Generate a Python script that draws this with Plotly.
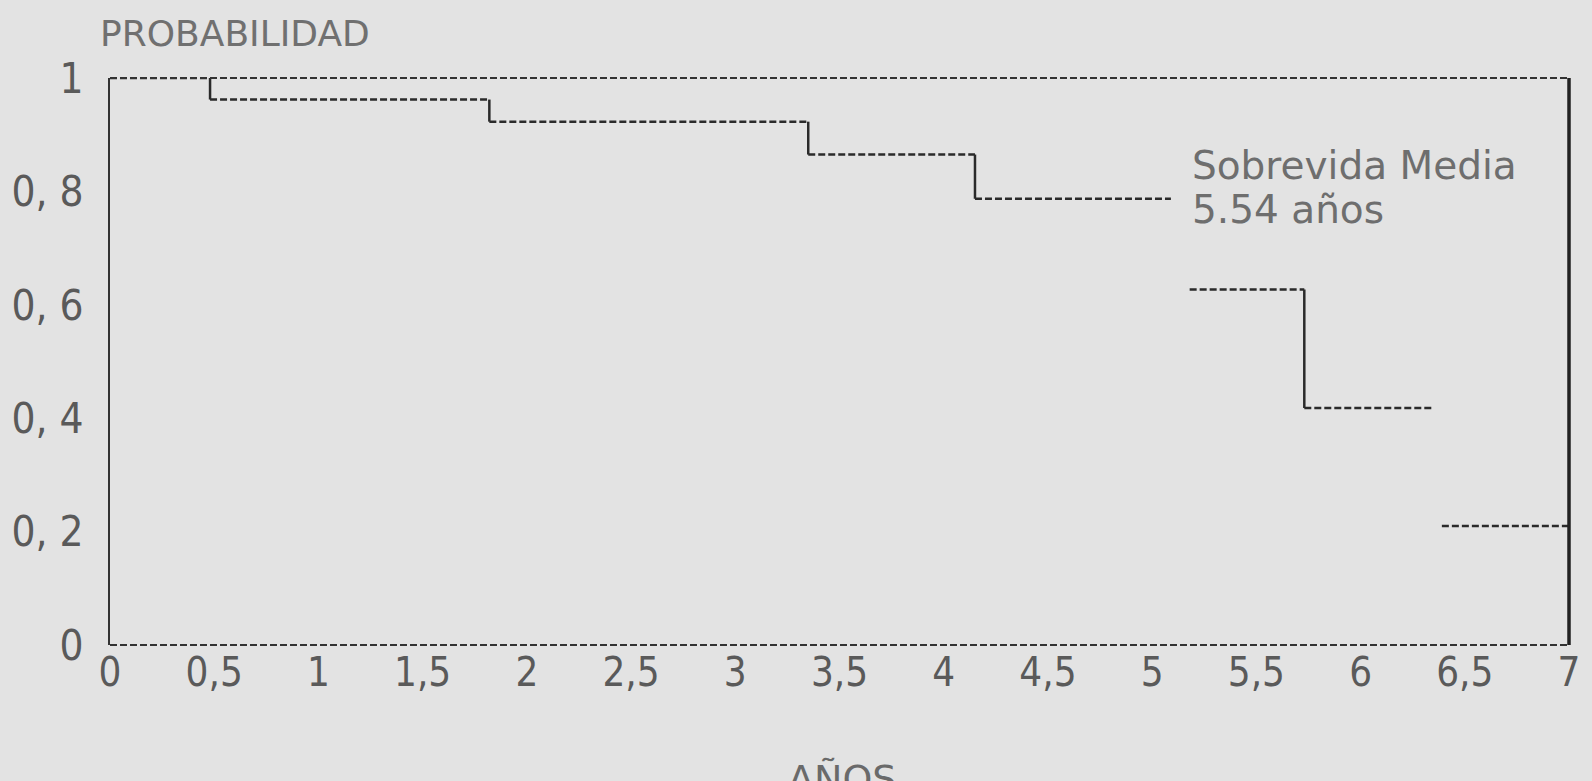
import plotly.graph_objects as go

# Kaplan-Meier style survival steps
seg_start = [0.0, 0.48, 1.82, 3.35, 4.15, 5.18, 5.73, 6.39]
seg_end = [0.48, 1.82, 3.35, 4.15, 5.09, 5.73, 6.35, 7.0]
survival = [1.0, 0.962, 0.923, 0.865, 0.787, 0.627, 0.418, 0.21]
drop_drawn = [True, True, True, True, False, True, False]

x_tickvals = [0, 0.5, 1, 1.5, 2, 2.5, 3, 3.5, 4, 4.5, 5, 5.5, 6, 6.5, 7]
x_ticktext = ["0", "0,5", "1", "1,5", "2", "2,5", "3", "3,5", "4", "4,5", "5", "5,5", "6", "6,5", "7"]
y_tickvals = [0, 0.2, 0.4, 0.6, 0.8, 1]
y_ticktext = ["0", "0, 2", "0, 4", "0, 6", "0, 8", "1"]

note_lines = ["Sobrevida Media", "5.54 años"]
note_x = 5.18
note_y = [0.846, 0.768]

hx, hy = [], []
for s, e, v in zip(seg_start, seg_end, survival):
    hx += [s, e, None]
    hy += [v, v, None]

vx, vy = [], []
for i, d in enumerate(drop_drawn):
    if d:
        vx += [seg_end[i], seg_end[i], None]
        vy += [survival[i], survival[i + 1], None]

fig = go.Figure()
fig.add_trace(go.Scatter(x=hx, y=hy, mode="lines",
                         line=dict(color="#2a2a2a", width=2.5, dash="7px,3px"),
                         hoverinfo="skip", showlegend=False))
fig.add_trace(go.Scatter(x=vx, y=vy, mode="lines",
                         line=dict(color="#2a2a2a", width=2.5),
                         hoverinfo="skip", showlegend=False))

xfont = dict(family="Liberation Sans Narrow, DejaVu Sans Condensed, Liberation Sans", size=40, color="#5a5a5a")
yfont = dict(family="Liberation Sans Narrow, DejaVu Sans Condensed, Liberation Sans", size=42, color="#5a5a5a")
txtfont = dict(family="DejaVu Sans", size=39, color="#6e6e6e")

# frame: dashed top and bottom, solid left/right
fig.add_shape(type="line", xref="paper", yref="paper", x0=0, x1=1, y0=1, y1=1,
              line=dict(color="#333333", width=2, dash="7px,3px"))
fig.add_shape(type="line", xref="paper", yref="paper", x0=0, x1=1, y0=0, y1=0,
              line=dict(color="#333333", width=2, dash="7px,3px"))
fig.add_shape(type="line", xref="paper", yref="paper", x0=1, x1=1, y0=0, y1=1,
              line=dict(color="#222222", width=3.5))

annotations = [
    dict(text="PROBABILIDAD", xref="paper", yref="paper", x=0, y=1,
         xanchor="left", yanchor="bottom", yshift=22, xshift=-12, showarrow=False,
         font=dict(family="DejaVu Sans", size=36, color="#707070")),
    dict(text="AÑOS", xref="paper", yref="paper", x=0.502, y=0,
         xanchor="center", yanchor="top", yshift=-110, showarrow=False,
         font=dict(family="DejaVu Sans", size=38, color="#6a6a6a")),
]
for t, yy in zip(note_lines, note_y):
    annotations.append(dict(text=t, x=note_x, y=yy, xanchor="left", yanchor="middle",
                            showarrow=False, font=txtfont))

fig.update_layout(
    width=1592, height=781,
    margin=dict(l=94, r=20, t=78, b=136),
    paper_bgcolor="#e3e3e3",
    plot_bgcolor="#e3e3e3",
    xaxis=dict(range=[0, 7], tickvals=x_tickvals, ticktext=x_ticktext,
               showgrid=False, zeroline=False, showline=False,
               ticks="", tickfont=xfont, ticklabelstandoff=0),
    yaxis=dict(range=[0, 1], tickvals=y_tickvals, ticktext=y_ticktext,
               showgrid=False, zeroline=False, showline=True, mirror=False,
               linecolor="#333333", linewidth=2,
               ticks="", tickfont=yfont, ticklabelstandoff=16),
    annotations=annotations,
)

fig.write_html("out.html", config={"displayModeBar": False},
               post_script="document.body.style.margin='0px';document.body.style.background='#e3e3e3';")
